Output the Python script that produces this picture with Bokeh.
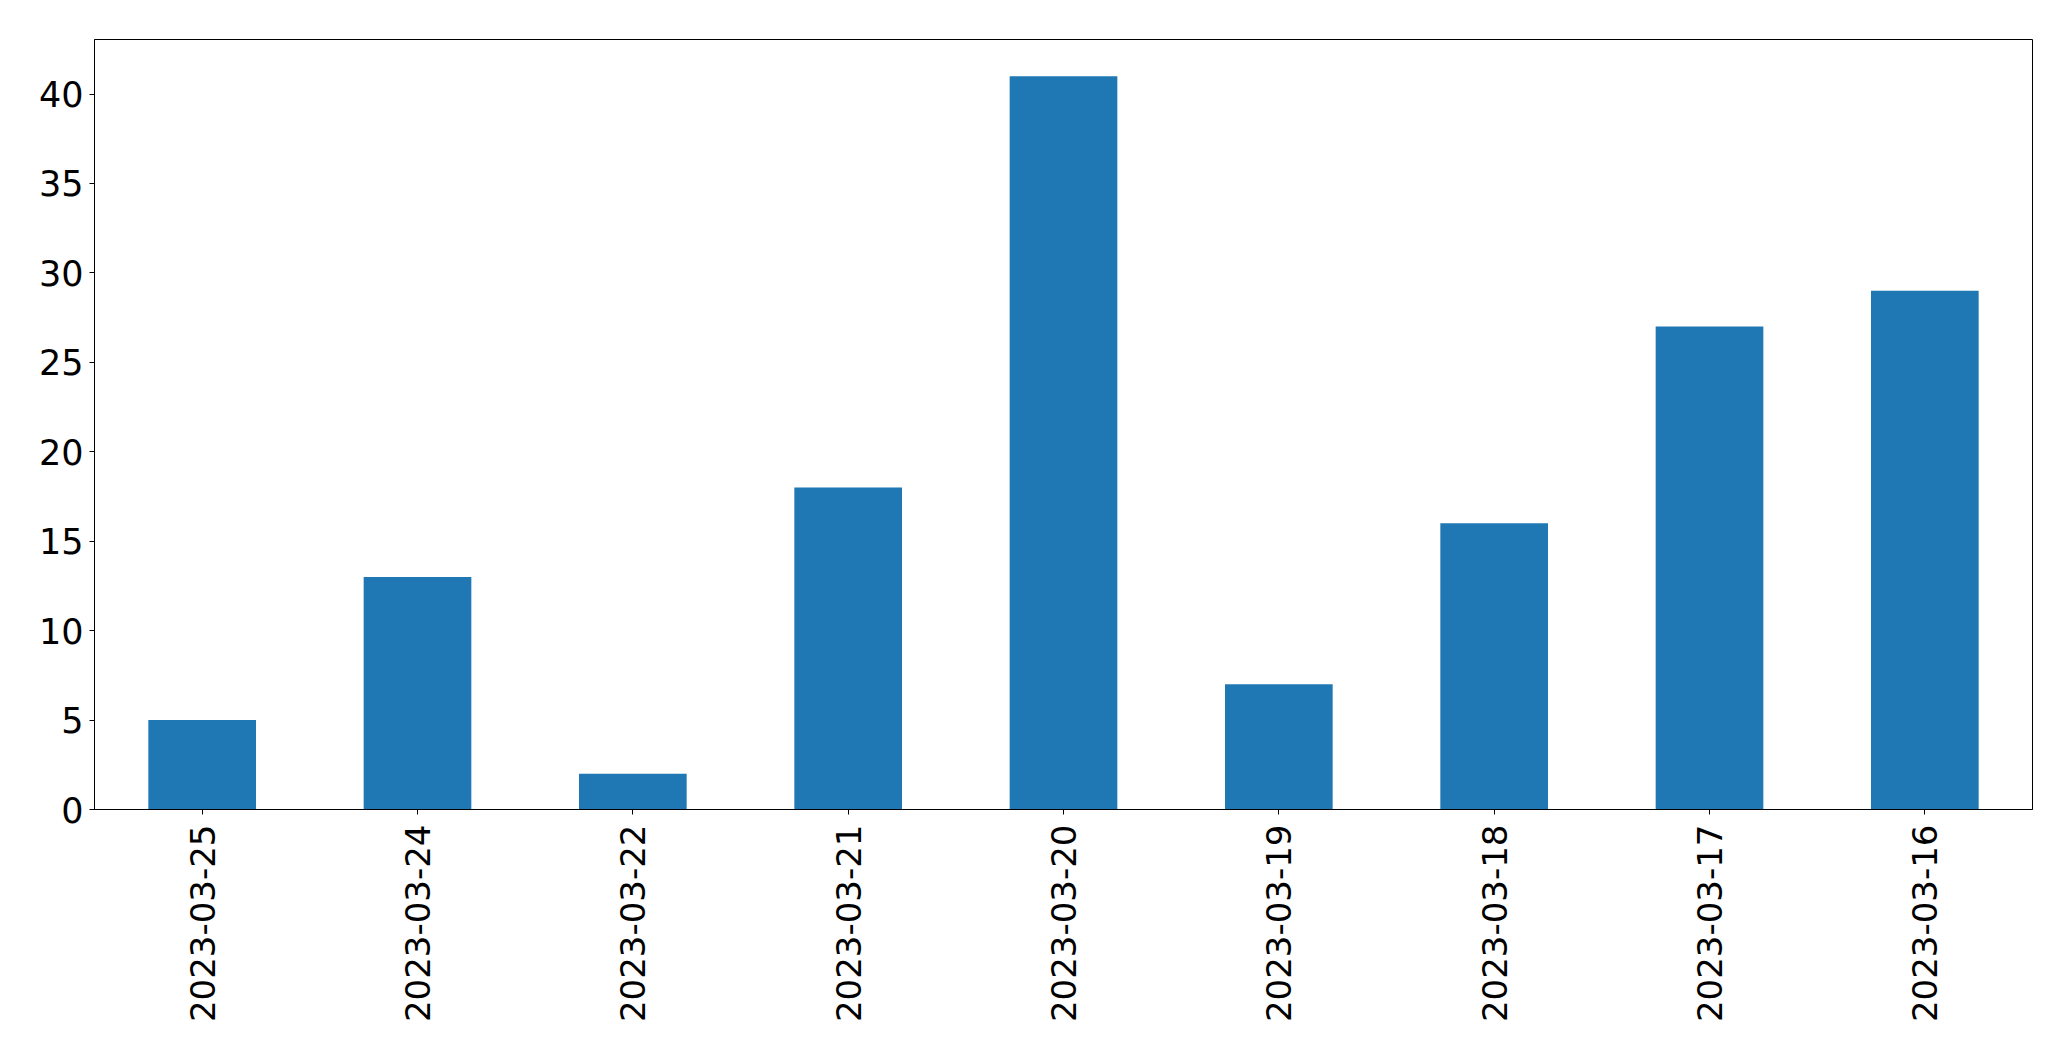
from bokeh.plotting import figure
from bokeh.models import FactorRange, Range1d, FixedTicker
from bokeh.embed import file_html
from bokeh.resources import INLINE
import math

dates = ["2023-03-25", "2023-03-24", "2023-03-22", "2023-03-21", "2023-03-20",
         "2023-03-19", "2023-03-18", "2023-03-17", "2023-03-16"]
counts = [5, 13, 2, 18, 41, 7, 16, 27, 29]
y_ticks = [0, 5, 10, 15, 20, 25, 30, 35, 40]

p = figure(
    x_range=FactorRange(*dates),
    y_range=Range1d(0, max(counts) * 1.05),
    frame_width=1938, frame_height=770,
    min_border_left=94, min_border_top=39, min_border_right=20, min_border_bottom=20,
    output_backend="svg", toolbar_location=None,
)

p.vbar(x=dates, top=counts, width=0.5, color="#1f77b4", line_color=None)

p.xgrid.visible = False
p.ygrid.visible = False
p.outline_line_color = "black"
p.outline_line_alpha = 1
p.outline_line_width = 1

p.yaxis.ticker = FixedTicker(ticks=y_ticks)
for ax in (p.xaxis, p.yaxis):
    ax.axis_line_color = "black"
    ax.major_tick_line_color = "black"
    ax.minor_tick_line_color = None
    ax.major_tick_in = 0
    ax.major_tick_out = 5
    ax.major_label_text_font = "DejaVu Sans"
    ax.major_label_text_color = "black"

p.yaxis.major_label_text_font_size = "35px"
p.xaxis.major_label_text_font_size = "34px"
p.yaxis.major_label_standoff = 6
p.xaxis.major_label_standoff = 10
p.xaxis.major_label_orientation = math.pi / 2

open("out.html", "w").write(file_html(p, INLINE))
